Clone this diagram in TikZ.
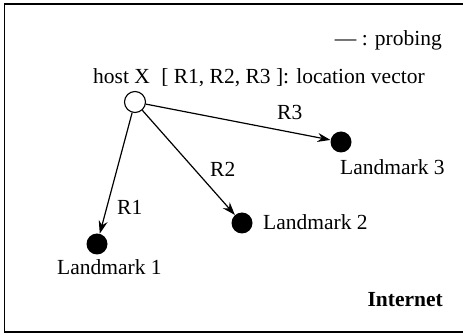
\documentclass[tikz,border=0pt]{standalone}
\usepackage{fontspec}
\setmainfont{Liberation Serif}
\usetikzlibrary{arrows.meta}
\begin{document}
\begin{tikzpicture}[x=1pt,y=-1pt,
  every node/.style={font=\fontsize{21.5}{25}\selectfont},
  hostnode/.style={circle,draw,fill=white,line width=1.1pt,minimum size=21pt,inner sep=0pt},
  lmnode/.style={circle,fill=black,minimum size=21pt,inner sep=0pt},
  txt/.style={inner sep=0pt,anchor=base west},
  probe/.style={-{Stealth[length=13pt,width=9pt]},line width=1.2pt}]
\useasboundingbox (0,0) rectangle (463,336);
\draw[line width=1.4pt] (463,4) -- (4.7,4) -- (4.7,332) -- (463,332);
\node[hostnode] (X) at (135,102) {};
\node[lmnode] (L1) at (97,244) {};
\node[lmnode] (L2) at (242,223) {};
\node[lmnode] (L3) at (341,142) {};
\draw[probe] (X) -- (L1);
\draw[probe] (X) -- (L2);
\draw[probe] (X) -- (L3);
\node[txt] (t1) at (57,275) {Landmark 1};
\node[txt] (t2) at (263,230) {Landmark 2};
\node[txt] (t3) at (340,175) {Landmark 3};
\node[txt] (r1) at (117,215) {R1};
\node[txt] (r2) at (210,177) {R2};
\node[txt] (r3) at (277,120) {R3};
\node[txt] (hx) at (93,84) {host X};
\node[txt] (lv) at ([xshift=11pt]hx.base east) {[ R1, R2, R3 ]: location vector};
\node[txt,anchor=base east] (pr) at (442,46) {— : probing};
\node[txt,anchor=base east,font=\fontsize{21.5}{25}\selectfont\bfseries] (in) at (443,307) {Internet};
\end{tikzpicture}
\end{document}
